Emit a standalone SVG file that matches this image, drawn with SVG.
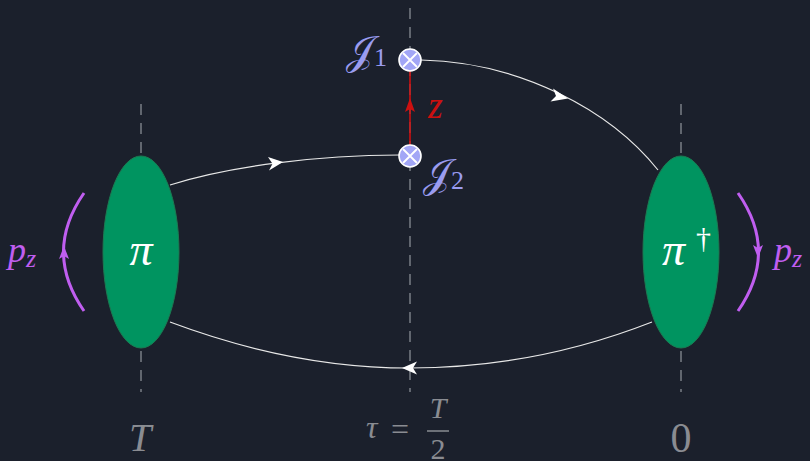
<svg xmlns="http://www.w3.org/2000/svg" width="810" height="461" viewBox="0 0 810 461">
<defs>
<style>
.guide{stroke:#7a7d85;stroke-width:1.5;stroke-dasharray:11 8;fill:none}
.prop{stroke:#e8e8e8;stroke-width:1.2;fill:none}
.head{fill:#ffffff}
.blob{fill:#009460;stroke:#1c7a52;stroke-width:1}
.mom{stroke:#c05ef0;stroke-width:3;fill:none}
.vtx circle{fill:#a2a6f6;stroke:#ffffff;stroke-width:1.6}
.vtx path{stroke:#ffffff;stroke-width:1.8}
text{font-family:"Liberation Serif","DejaVu Serif",serif}
.i{font-style:italic}
.axis{fill:#8a8c92}
.scr{font-family:"DejaVu Serif","Noto Sans",serif}
</style>
</defs>
<rect width="810" height="461" fill="#1b202c"/>
<g id="guides">
<line class="guide" x1="141" y1="104" x2="141" y2="392"/>
<line class="guide" x1="410" y1="8" x2="410" y2="392"/>
<line class="guide" x1="681" y1="104" x2="681" y2="392"/>
</g>
<g id="connectors">
<path class="prop" d="M170,185 C230,166 320,155 399,155"/>
<path class="head" d="M283,162 L268,157 L272.5,163.8 L269,170.5 Z"/>
<path class="prop" d="M421,60 C520,62 610,110 658,170"/>
<path class="head" d="M568,98.5 L553,88.5 L556,96 L550.5,101.5 Z"/>
<path class="prop" d="M652,322 C560,358 480,368 410,368 C330,368 250,352 170,322"/>
<path class="head" d="M402,368 L417,361.5 L413,368 L417,374.5 Z"/>
<line x1="410" y1="147" x2="410" y2="70" stroke="#cc1010" stroke-width="1.6"/>
<path d="M410,98 L405,112 L410,109 L415,112 Z" fill="#cc1010"/>
<path class="mom" d="M84,193 Q43,252 84,311"/>
<path d="M64,246 L59,259 L64,256 L69,259 Z" fill="#c05ef0"/>
<path class="mom" d="M738,193 Q779,252 738,311"/>
<path d="M758,258 L753,245 L758,248 L763,245 Z" fill="#c05ef0"/>
</g>
<g id="pi">
<ellipse class="blob" cx="141" cy="252" rx="38" ry="96"/>
<text x="141" y="265" text-anchor="middle" fill="#ffffff" font-size="46" class="i">π</text>
</g>
<g id="pidag">
<ellipse class="blob" cx="681" cy="252" rx="38" ry="96"/>
<text x="662" y="265" fill="#ffffff" font-size="46" class="i">π</text>
<text x="696" y="248" fill="#ffffff" font-size="30">†</text>
</g>
<g id="J1" class="vtx">
<circle cx="410" cy="60" r="11"/>
<path d="M403,53 L417,67 M417,53 L403,67"/>
</g>
<g id="J2" class="vtx">
<circle cx="410" cy="156" r="11"/>
<path d="M403,149 L417,163 M417,149 L403,163"/>
</g>
<g id="labels">
<text x="346" y="64" fill="#9a9cf0" font-size="40" class="scr">𝒥<tspan font-size="26" dy="2" font-family="Liberation Serif,serif">1</tspan></text>
<text x="423" y="187" fill="#9a9cf0" font-size="40" class="scr">𝒥<tspan font-size="26" dy="2" font-family="Liberation Serif,serif">2</tspan></text>
<text x="428" y="118" fill="#cc1010" font-size="38" class="i">z</text>
<text x="8" y="262" fill="#c05ef0" font-size="36" class="i">p<tspan font-size="26" dy="5">z</tspan></text>
<text x="774" y="262" fill="#c05ef0" font-size="36" class="i">p<tspan font-size="26" dy="5">z</tspan></text>
<text x="140" y="451" text-anchor="middle" font-size="40" class="axis i">T</text>
<text x="366" y="438" font-size="32" class="axis i">τ</text>
<text x="391" y="440" font-size="32" class="axis">=</text>
<text x="438" y="418" text-anchor="middle" font-size="30" class="axis i">T</text>
<line x1="427" y1="431" x2="449" y2="431" stroke="#8a8c92" stroke-width="1.5"/>
<text x="438" y="459" text-anchor="middle" font-size="30" class="axis">2</text>
<text x="681" y="452" text-anchor="middle" font-size="42" class="axis">0</text>
</g>
</svg>
